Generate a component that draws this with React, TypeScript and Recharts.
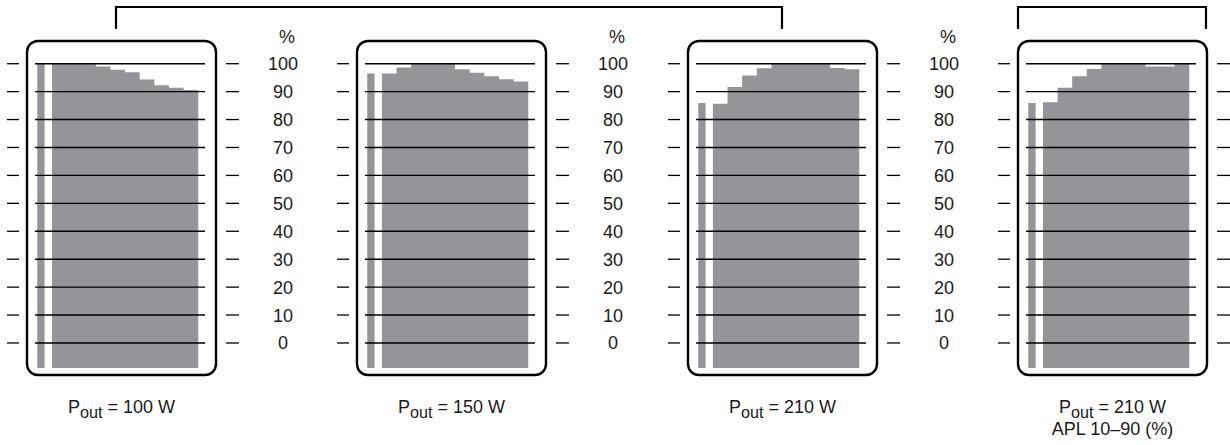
import React from 'react';
import { ComposedChart, Area, XAxis, YAxis, ReferenceLine } from 'recharts';

const powerLabels = ['100 W', '150 W', '210 W', '210 W'];
const noteLabels = ['', '', '', 'APL 10–90 (%)'];
const warmupValues = [100, 96.5, 85.9, 85.9];
const steps100W = [100, 100, 100, 99, 97.8, 96.9, 94.3, 92.3, 91.4, 90.6];
const steps150W = [96.5, 98.6, 100, 100, 100, 98.0, 96.8, 95.5, 94.4, 93.6];
const steps210W = [85.7, 91.7, 95.8, 98.4, 100, 100, 100, 100, 98.5, 98.0];
const steps210WApl = [86.2, 91.4, 95.5, 98.1, 100, 100, 100, 99.0, 99.0, 100];
const yTicks = [0, 10, 20, 30, 40, 50, 60, 70, 80, 90, 100];

const panelSteps = [steps100W, steps150W, steps210W, steps210WApl];

const GREY = '#939598';
const FONT = '"Liberation Sans", Arial, Helvetica, sans-serif';
const PANEL_X = [0, 330, 661, 991];
const Y_DOMAIN: [number, number] = [-9, 100];
const X_DOMAIN: [number, number] = [-0.31, 22.92];

type Row = { x: number; warmup?: number; level?: number };

// narrow warm-up bar takes one slot, then a gap, then each level two slots
function buildRows(warmup: number, steps: number[]): Row[] {
  const rows: Row[] = [
    { x: 0, warmup },
    { x: 1, warmup },
  ];
  steps.forEach((v, i) => rows.push({ x: 2 + i * 2, level: v }));
  rows.push({ x: 2 + steps.length * 2, level: steps[steps.length - 1] });
  return rows;
}

const LeftTick = (props: any) => {
  const { y } = props;
  return <line x1={7} x2={19} y1={y} y2={y} stroke="#000" strokeWidth={1.3} />;
};

const makeRightTick = (withLabel: boolean) => (props: any) => {
  const { y, payload } = props;
  return (
    <g>
      <line x1={226} x2={239} y1={y} y2={y} stroke="#000" strokeWidth={1.3} />
      {withLabel && (
        <text x={283} y={y} dy="0.36em" textAnchor="middle" fontSize={18} fontFamily={FONT} fill="#1a1a1a">
          {payload.value}
        </text>
      )}
    </g>
  );
};

const Panel = ({ index }: { index: number }) => {
  const withLabel = index < 3;
  const width = withLabel ? 305 : 240;
  const rows = buildRows(warmupValues[index], panelSteps[index]);
  return (
    <div style={{ position: 'absolute', left: PANEL_X[index], top: 0 }}>
      <ComposedChart
        width={width}
        height={445}
        data={rows}
        margin={{ top: 63.7, bottom: 76.9, left: 34, right: width - 206 }}
      >
        <XAxis type="number" dataKey="x" domain={X_DOMAIN} allowDataOverflow hide />
        <YAxis
          yAxisId="l"
          type="number"
          domain={Y_DOMAIN}
          ticks={yTicks}
          interval={0}
          allowDataOverflow
          width={1}
          axisLine={false}
          tickLine={false}
          tick={LeftTick}
        />
        <YAxis
          yAxisId="r"
          orientation="right"
          type="number"
          domain={Y_DOMAIN}
          ticks={yTicks}
          interval={0}
          allowDataOverflow
          width={1}
          axisLine={false}
          tickLine={false}
          tick={makeRightTick(withLabel)}
        />
        <Area
          yAxisId="l"
          type="stepAfter"
          dataKey="warmup"
          baseValue="dataMin"
          stroke="none"
          fill={GREY}
          fillOpacity={1}
          isAnimationActive={false}
        />
        <Area
          yAxisId="l"
          type="stepAfter"
          dataKey="level"
          baseValue="dataMin"
          stroke="none"
          fill={GREY}
          fillOpacity={1}
          isAnimationActive={false}
        />
        {yTicks.map((t) => (
          <ReferenceLine key={t} yAxisId="l" y={t} stroke="#000" strokeWidth={1.4} />
        ))}
      </ComposedChart>
    </div>
  );
};

export default function App() {
  return (
    <div
      style={{
        position: 'absolute',
        left: 0,
        top: 0,
        width: 1230,
        height: 445,
        background: '#fff',
        fontFamily: FONT,
        color: '#1a1a1a',
      }}
    >
      {powerLabels.map((_, i) => (
        <Panel key={i} index={i} />
      ))}

      <svg width={1230} height={445} style={{ position: 'absolute', left: 0, top: 0, pointerEvents: 'none' }}>
        {PANEL_X.map((x, i) => (
          <rect key={i} x={x + 27} y={41} width={189} height={334} rx={11} ry={11} fill="none" stroke="#000" strokeWidth={2.4} />
        ))}
        <path d="M116,29 V7 H782 V29" fill="none" stroke="#000" strokeWidth={2.2} />
        <path d="M1018,29 V7 H1206 V29" fill="none" stroke="#000" strokeWidth={2.2} />
      </svg>

      {PANEL_X.slice(0, 3).map((x, i) => (
        <div key={i} style={{ position: 'absolute', left: x + 272, top: 27, width: 30, textAlign: 'center', fontSize: 18, lineHeight: '21px' }}>
          %
        </div>
      ))}

      {powerLabels.map((p, i) => (
        <div
          key={i}
          style={{
            position: 'absolute',
            left: PANEL_X[i] + 121.5 - 100,
            top: 396,
            width: 200,
            textAlign: 'center',
            fontSize: 18,
            lineHeight: '22px',
          }}
        >
          <div>
            P<sub style={{ fontSize: '0.9em', verticalAlign: '-0.3em', lineHeight: 0 }}>out</sub> = {p}
          </div>
          {noteLabels[i] && <div>{noteLabels[i]}</div>}
        </div>
      ))}
    </div>
  );
}
